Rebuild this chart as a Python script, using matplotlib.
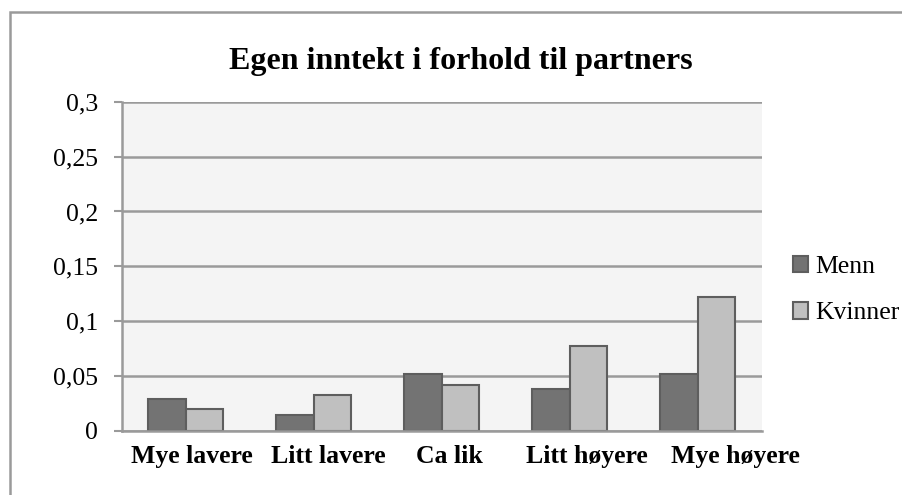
import matplotlib.pyplot as plt
import numpy as np
from matplotlib.patches import Rectangle
from matplotlib.ticker import FuncFormatter
from matplotlib.transforms import ScaledTranslation

plt.rcParams['font.family'] = ['Liberation Serif', 'DejaVu Serif']

kategorier = ['Mye lavere', 'Litt lavere', 'Ca lik', 'Litt høyere', 'Mye høyere']
menn = [0.029, 0.0146, 0.0516, 0.0382, 0.0516]
kvinner = [0.0197, 0.0328, 0.0419, 0.0777, 0.1223]
yticks = [0, 0.05, 0.1, 0.15, 0.2, 0.25, 0.3]

fig = plt.figure(figsize=(9.03, 4.95), dpi=100)
ax = fig.add_axes([0.1348, 0.1293, 0.7087, 0.6652])

# ramme rundt hele diagrammet (bare topp og venstre synlig)
fig.patches.append(Rectangle((10 / 903, -0.1), 2, (495 - 12) / 495 + 0.1,
                             transform=fig.transFigure, fill=False,
                             edgecolor='#9a9a9a', linewidth=1.8))

x = np.arange(len(kategorier))
b = 0.293
ax.bar(x - b / 2, menn, b, color='#737373', edgecolor='#5e5e5e', linewidth=1.5,
       label='Menn', zorder=3)
ax.bar(x + b / 2, kvinner, b, color='#c0c0c0', edgecolor='#5e5e5e', linewidth=1.5,
       label='Kvinner', zorder=3)

ax.set_facecolor('#f4f4f4')
ax.set_xlim(-0.5, len(kategorier) - 0.5)
ax.set_ylim(0, 0.3)
ax.set_yticks(yticks)
ax.yaxis.set_major_formatter(FuncFormatter(lambda v, p: ('%g' % v).replace('.', ',')))
ax.set_xticks(x)
ax.set_xticklabels([])
ax.tick_params(axis='x', length=0)
ax.tick_params(axis='y', length=6, width=1.5, color='#9a9a9a', labelsize=18.5, pad=11)
ax.grid(axis='y', color='#9a9a9a', linewidth=1.8, zorder=0)
for s in ['top', 'right']:
    ax.spines[s].set_visible(False)
for s in ['left', 'bottom']:
    ax.spines[s].set_color('#9a9a9a')
    ax.spines[s].set_linewidth(1.8)
    ax.spines[s].set_zorder(4)

# kategorinavn litt forskjøvet mot høyre, som i originalen (px)
forskyv = [6, 15, 8, 17, 38]
for xi, navn, dx in zip(x, kategorier, forskyv):
    tr = ax.get_xaxis_transform() + ScaledTranslation(dx / 100, -14 / 100, fig.dpi_scale_trans)
    ax.text(xi, 0, navn, transform=tr, ha='center', va='top',
            fontsize=18.5, fontweight='bold')

fig.text(461 / 903, (495 - 62) / 495, 'Egen inntekt i forhold til partners',
         ha='center', va='center', fontsize=23, fontweight='bold')

fig.legend(loc='center left', bbox_to_anchor=(793 / 903, (495 - 290) / 495),
           frameon=False, fontsize=18.5, handlelength=0.6, handleheight=0.6,
           handletextpad=0.25, labelspacing=0.95, borderpad=0, borderaxespad=0)

fig.savefig('out.png', dpi=100)
